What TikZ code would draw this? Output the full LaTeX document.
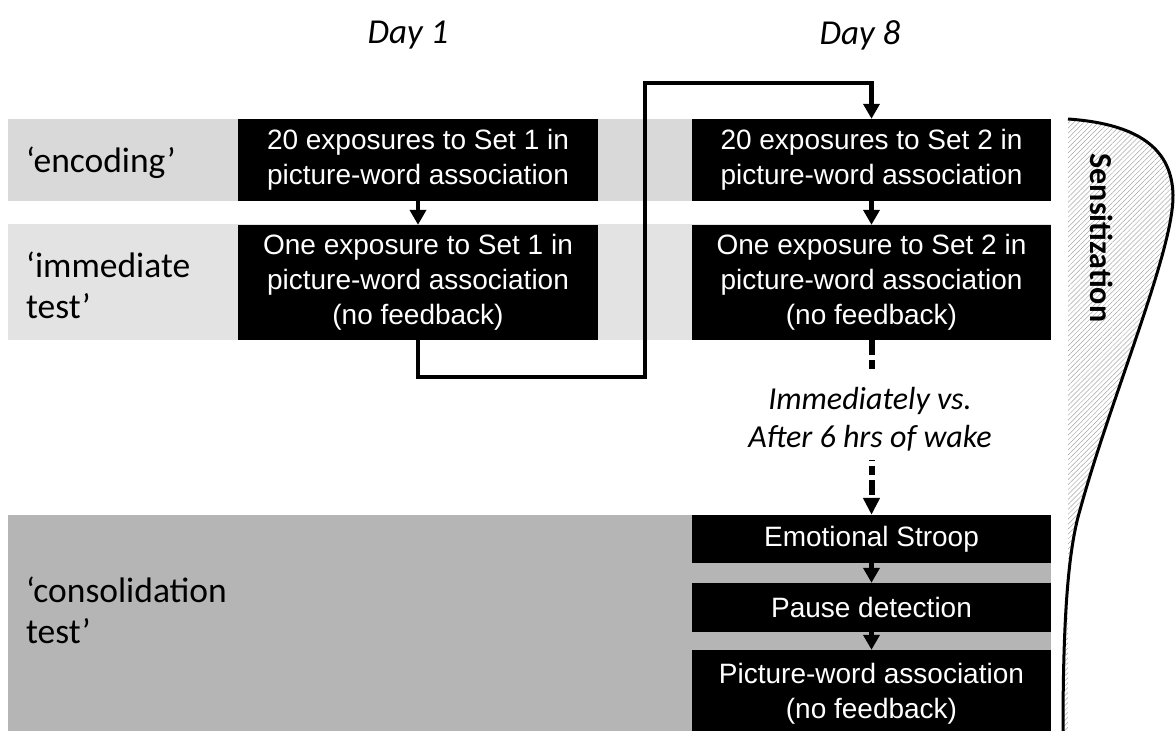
\documentclass[tikz,border=0pt]{standalone}
\usepackage{fontspec}
\setmainfont{Carlito}
\newfontfamily\boxfont{Liberation Sans}
\usepackage{tikz}
\usetikzlibrary{arrows.meta,patterns.meta}

\begin{document}
\begin{tikzpicture}[x=1pt,y=-1pt,
    blk/.style={fill=black,text=white,font=\boxfont\fontsize{28}{35}\selectfont,align=center,inner sep=0pt},
    lbl/.style={font=\fontsize{35.5}{41}\selectfont,align=left,anchor=west,inner sep=0pt},
    link/.style={line width=4.5pt,-{Triangle[width=16pt,length=15pt]}},
    dlink/.style={line width=6pt,dash pattern=on 15pt off 5pt on 9pt off 5pt}
  ]
  \useasboundingbox (0,0) rectangle (1176,731);

  % bands
  \fill[gray!30] (8,119) rectangle (1051,201);
  \fill[gray!22] (8,224) rectangle (1051,340);
  \fill[gray!58] (8,515) rectangle (1051,731);

  % phase labels
  \node[lbl] (encL) at (26,163) {‘encoding’};
  \node[lbl] (immL) at (26,285) {‘immediate\\test’};
  \node[lbl] (conL) at (26,610) {‘consolidation\\test’};

  % days
  \node[font=\itshape\fontsize{35}{35}\selectfont] (day1) at (408,35) {Day 1};
  \node[font=\itshape\fontsize{35}{35}\selectfont] (day8) at (860,35) {Day 8};

  % day 1
  \node[blk,minimum width=360,minimum height=82] (encA) at (418,160)
    {20 exposures to Set 1 in\\picture-word association};
  \node[blk,minimum width=360,minimum height=115] (immA) at (418,282.5)
    {One exposure to Set 1 in\\picture-word association\\(no feedback)};
  % day 8
  \node[blk,minimum width=359,minimum height=82] (encB) at (871.5,160)
    {20 exposures to Set 2 in\\picture-word association};
  \node[blk,minimum width=359,minimum height=115] (immB) at (871.5,282.5)
    {One exposure to Set 2 in\\picture-word association\\(no feedback)};
  \node[blk,minimum width=359,minimum height=48] (strE) at (871.5,539) {Emotional Stroop};
  \node[blk,minimum width=359,minimum height=49] (pauF) at (871.5,607.5) {Pause detection};
  \node[blk,minimum width=359,minimum height=88] (pwaG) at (871.5,694)
    {Picture-word association\\(no feedback)};

  \node[font=\itshape\fontsize{32}{38}\selectfont,align=center,inner sep=0pt] (delay) at (870,419)
    {Immediately vs.\\After 6 hrs of wake};

  % connections
  \foreach \a/\b in {
    encA/immA,
    encB/immB,
    strE/pauF,
    pauF/pwaG%
  } { \draw[link] (\a) -- (\b); }

  \coordinate (via) at (645,83);
  \draw[link] (immA.south) -- ++(0,37) -| (via) -| (encB.north);

  \draw[dlink,shorten >=14pt] (immB.south) -- (immB.south |- delay.north);
  \draw[dlink,dash phase=14pt,shorten <=9pt,-{Triangle[width=16pt,length=17pt]}]
    (immB.south |- delay.south) -- (strE.north);

  % sensitization
  \fill[pattern={Lines[angle=45,distance=3.5pt,line width=0.5pt]},pattern color=gray!70]
    (1068,119) .. controls (1140,124) and (1172,150) .. (1173,195)
    .. controls (1174,250) and (1110,400) .. (1080,510)
    .. controls (1068,550) and (1063,620) .. (1063,731) -- (1068,731) -- cycle;
  \draw[line width=3pt]
    (1068,119) .. controls (1140,124) and (1172,150) .. (1173,195)
    .. controls (1174,250) and (1110,400) .. (1080,510)
    .. controls (1068,550) and (1063,620) .. (1063,731);
  \node[rotate=-90,font=\bfseries\fontsize{32}{32}\selectfont] (sens) at (1102,238) {Sensitization};
\end{tikzpicture}
\end{document}
